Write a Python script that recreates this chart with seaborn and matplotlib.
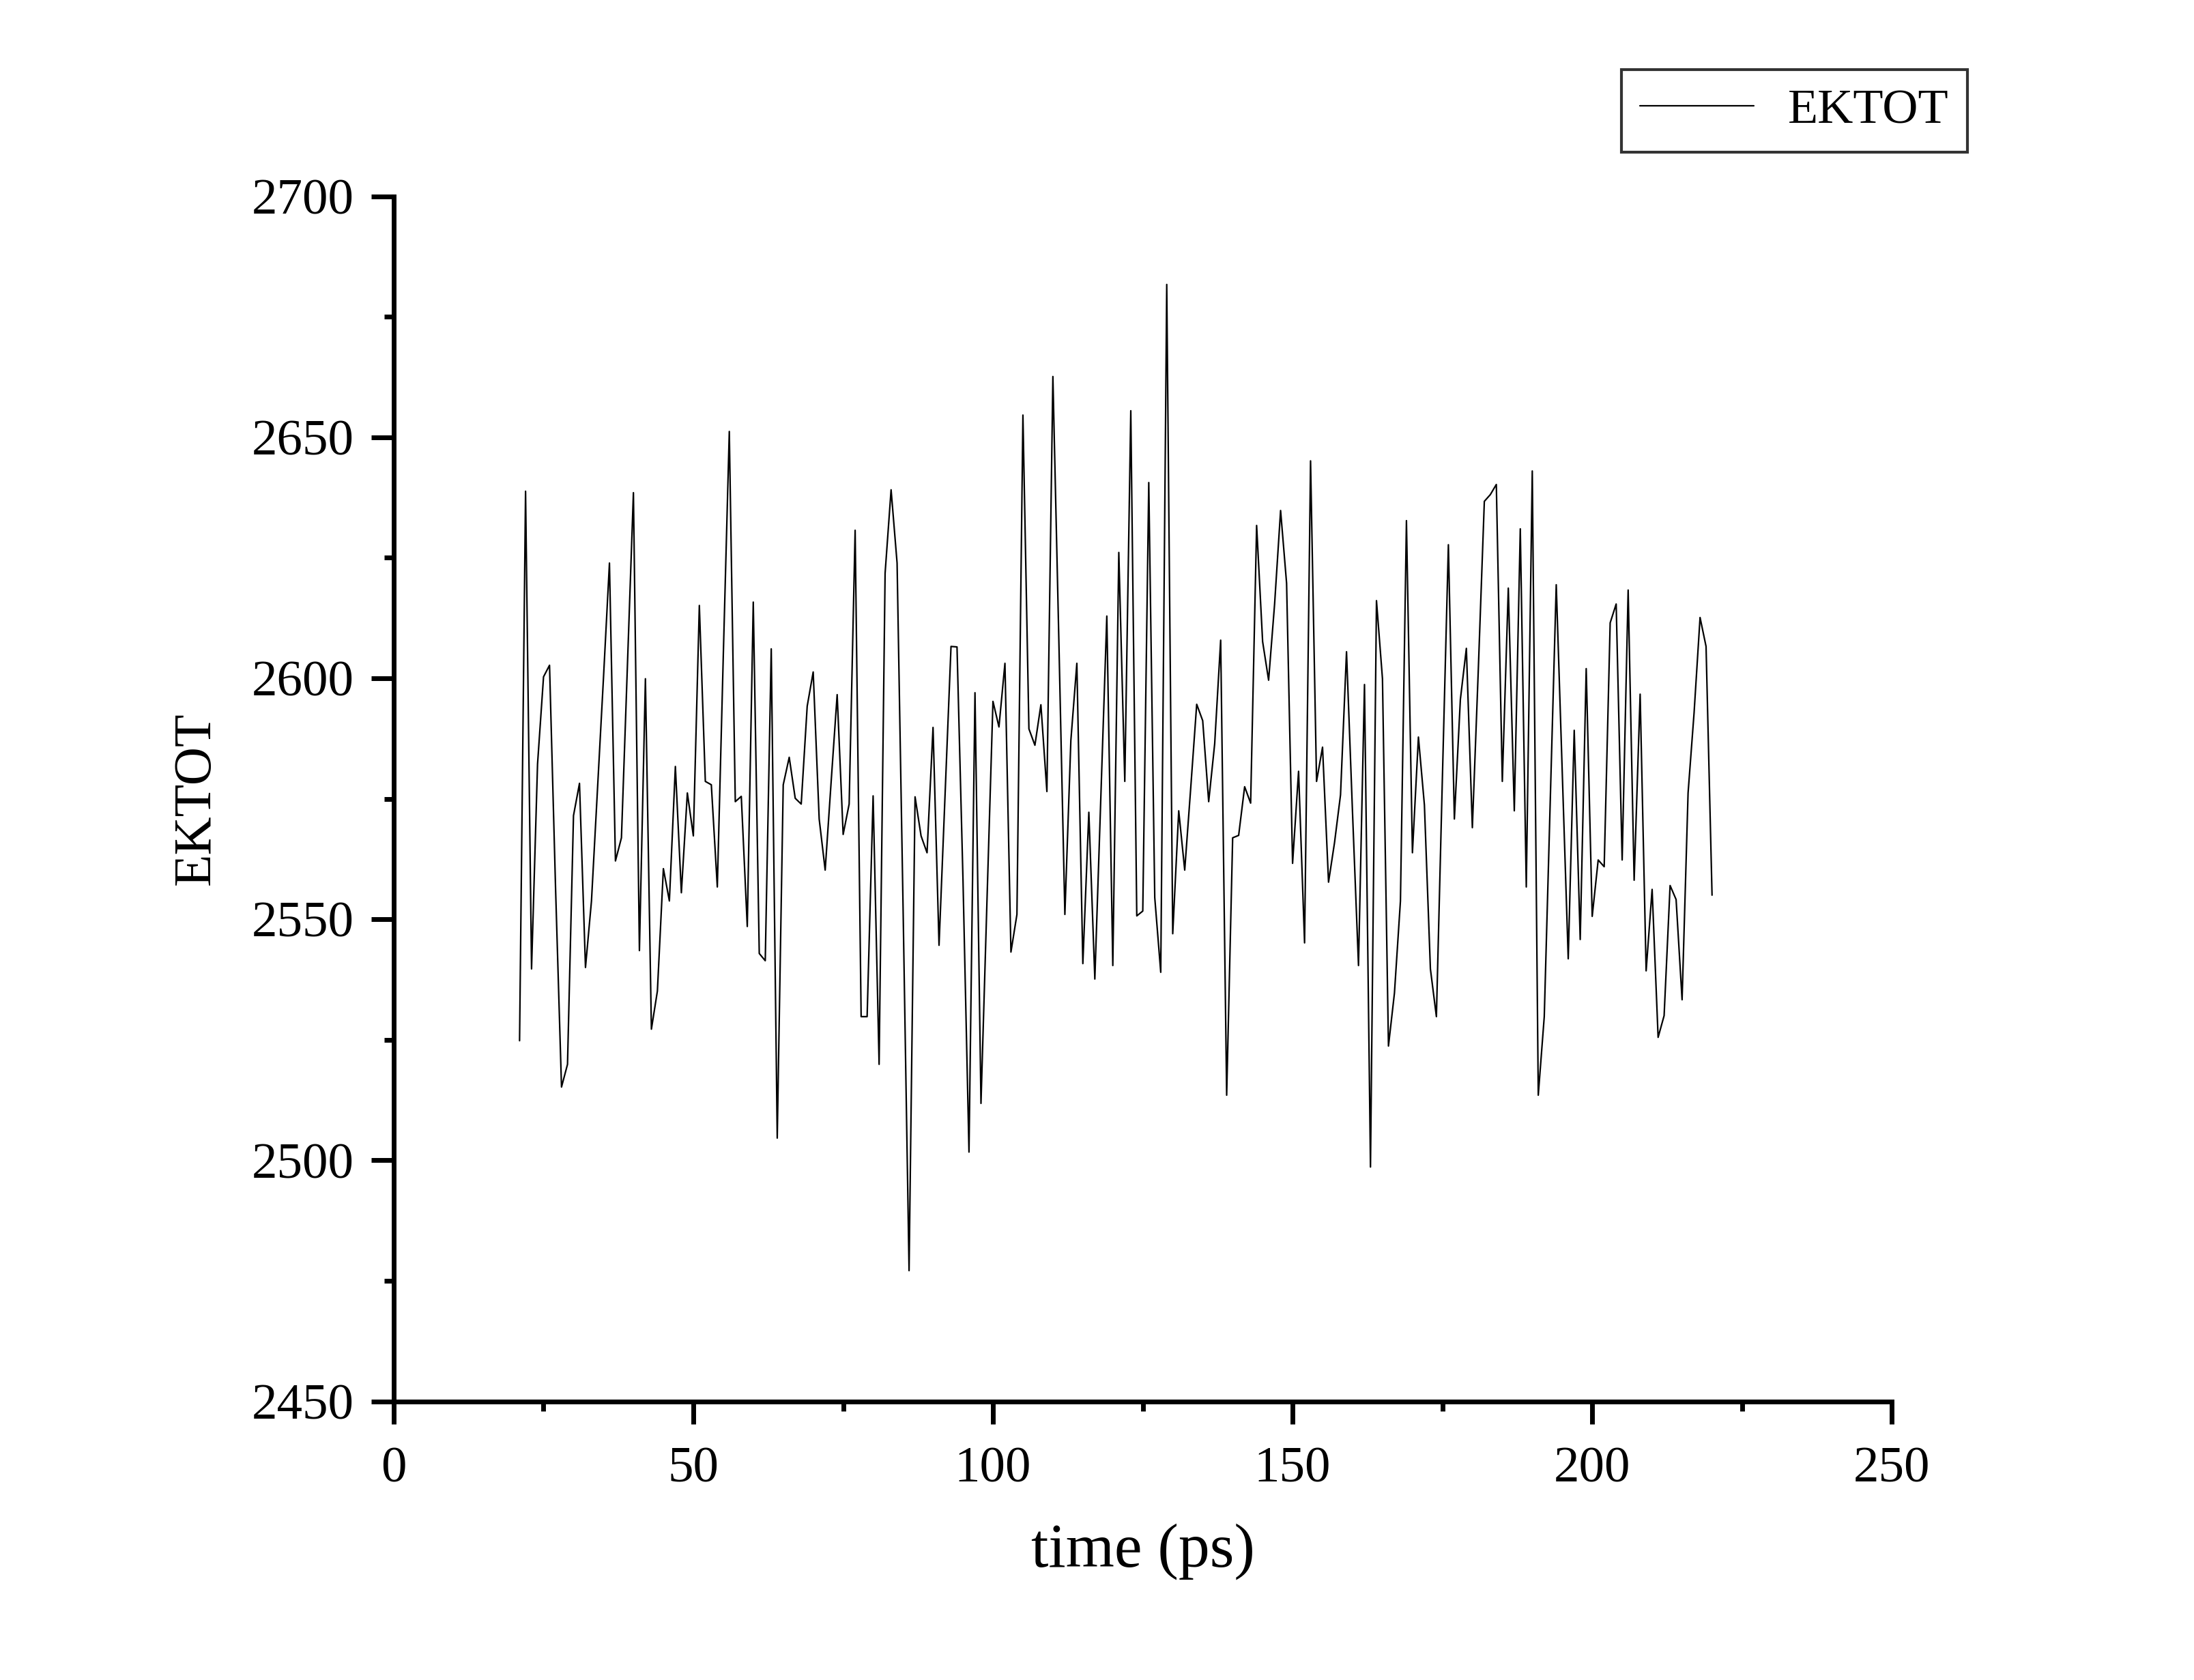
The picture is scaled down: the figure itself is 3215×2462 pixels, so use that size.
import numpy as np
import pandas as pd
import seaborn as sns
import matplotlib.pyplot as plt
from matplotlib.ticker import MultipleLocator

# time axis (ps), one frame per ps
time_ps = list(range(21, 221))

# kinetic energy
ektot = [
    2524.8, 2638.8, 2539.7, 2582.2, 2600.3, 2602.7, 2556.7, 2515.2, 2519.9, 2571.5,
    2578.2, 2540.0, 2553.8, 2576.9, 2600.0, 2623.9, 2562.1, 2566.9, 2602.7, 2638.5,
    2543.5, 2599.9, 2527.2, 2535.1, 2560.5, 2553.8, 2581.7, 2555.5, 2576.2, 2567.3,
    2615.1, 2578.6, 2577.9, 2556.7, 2604.8, 2651.2, 2574.4, 2575.5, 2548.5, 2615.8,
    2542.9, 2541.4, 2606.1, 2504.6, 2577.9, 2583.6, 2575.1, 2573.9, 2594.2, 2601.3,
    2570.8, 2560.2, 2578.6, 2596.6, 2567.6, 2573.9, 2630.7, 2529.8, 2529.8, 2575.6,
    2519.9, 2621.8, 2639.1, 2623.9, 2552.4, 2477.1, 2575.4, 2567.3, 2563.8, 2589.8,
    2544.6, 2575.6, 2606.6, 2606.5, 2558.1, 2501.7, 2597.0, 2511.8, 2553.8, 2595.2,
    2589.9, 2603.1, 2543.2, 2551.0, 2654.6, 2589.5, 2586.1, 2594.5, 2576.5, 2662.6,
    2607.6, 2551.0, 2587.1, 2603.1, 2540.8, 2572.2, 2537.6, 2575.1, 2612.9, 2540.4,
    2626.1, 2578.6, 2655.5, 2550.7, 2551.7, 2640.6, 2554.5, 2539.0, 2681.7, 2547.0,
    2572.5, 2560.2, 2577.2, 2594.6, 2591.2, 2574.4, 2586.4, 2607.9, 2513.5, 2566.9,
    2567.4, 2577.5, 2574.1, 2631.7, 2607.6, 2599.6, 2615.4, 2634.8, 2619.7, 2561.6,
    2580.7, 2545.1, 2645.1, 2578.6, 2585.7, 2557.7, 2565.9, 2575.8, 2605.5, 2572.2,
    2540.4, 2598.7, 2498.6, 2616.1, 2599.9, 2523.7, 2534.7, 2553.8, 2632.7, 2563.8,
    2587.8, 2573.7, 2539.7, 2529.8, 2579.3, 2627.7, 2570.8, 2595.6, 2606.2, 2569.0,
    2602.0, 2636.7, 2638.1, 2640.2, 2578.6, 2618.7, 2572.5, 2631.0, 2556.7, 2643.0,
    2513.5, 2529.8, 2574.4, 2619.4, 2580.7, 2541.8, 2589.2, 2545.8, 2602.0, 2550.6,
    2562.3, 2560.9, 2611.5, 2615.4, 2562.3, 2618.3, 2558.1, 2596.7, 2539.3, 2556.2,
    2525.5, 2530.0, 2557.0, 2554.1, 2533.3, 2576.2, 2592.8, 2612.6, 2606.6, 2555.0,
]

df = pd.DataFrame({'time': time_ps, 'EKTOT': ektot})

sns.set_style("ticks")
plt.rcParams['font.family'] = ['Liberation Serif', 'DejaVu Serif']
plt.rcParams['text.color'] = 'black'
plt.rcParams['axes.labelcolor'] = 'black'
plt.rcParams['xtick.color'] = 'black'
plt.rcParams['ytick.color'] = 'black'

fig = plt.figure(figsize=(16.08, 12.31), dpi=200)
ax = fig.add_axes([0.1794, 0.1659, 0.6826, 0.7173])

sns.lineplot(data=df, x='time', y='EKTOT', color='black', linewidth=0.8,
             label='EKTOT', ax=ax)

ax.set_xlim(0, 250)
ax.set_ylim(2450, 2700)
ax.xaxis.set_major_locator(MultipleLocator(50))
ax.xaxis.set_minor_locator(MultipleLocator(25))
ax.yaxis.set_major_locator(MultipleLocator(50))
ax.yaxis.set_minor_locator(MultipleLocator(25))

for s in ['top', 'right']:
    ax.spines[s].set_visible(False)
for s in ['left', 'bottom']:
    ax.spines[s].set_linewidth(2.5)
    ax.spines[s].set_color('black')

ax.tick_params(axis='both', which='major', direction='out', length=12, width=2.5,
               labelsize=27, colors='black')
ax.tick_params(axis='both', which='minor', direction='out', length=5, width=2.5,
               colors='black')
ax.tick_params(axis='x', which='major', pad=12)
ax.tick_params(axis='y', which='major', pad=9)

ax.set_xlabel('time (ps)', fontsize=33, labelpad=16, color='black')
ax.set_ylabel('EKTOT', fontsize=28, labelpad=16, color='black')

leg = ax.legend(loc='upper right', bbox_to_anchor=(0.8965, 0.9585),
                bbox_transform=fig.transFigure, fontsize=26, frameon=True,
                fancybox=False, handlelength=2.3, handletextpad=0.7,
                borderpad=0.38, borderaxespad=0, labelcolor='black')
leg.get_frame().set_edgecolor('black')
leg.get_frame().set_linewidth(1.5)
for line in leg.get_lines():
    line.set_linewidth(0.8)

plt.savefig('out.png', dpi=200)
